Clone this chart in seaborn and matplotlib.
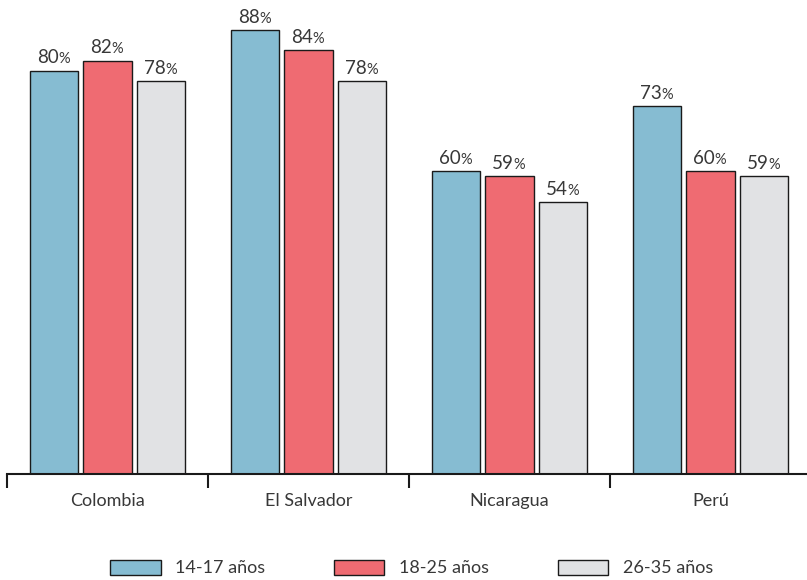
import matplotlib
matplotlib.use("Agg")
import matplotlib.pyplot as plt
import seaborn as sns
import pandas as pd
from matplotlib.patches import Patch

countries = ["Colombia", "El Salvador", "Nicaragua", "Perú"]
groups = ["14-17 años", "18-25 años", "26-35 años"]
v_14_17 = [80, 88, 60, 73]
v_18_25 = [82, 84, 59, 60]
v_26_35 = [78, 78, 54, 59]
colors = ["#86BCD2", "#EF6B72", "#E1E2E4"]

rows = []
for g, vals in zip(groups, [v_14_17, v_18_25, v_26_35]):
    for c, v in zip(countries, vals):
        rows.append({"country": c, "group": g, "value": v})
df = pd.DataFrame(rows)

sns.set_theme(style="white")
plt.rcParams["font.family"] = ["Lato", "DejaVu Sans"]
txt = "#383838"

fig = plt.figure(figsize=(8.07, 5.80), dpi=100)
ax = fig.add_axes([7 / 807, 1 - 474 / 580, 804 / 807, 474 / 580])
sns.barplot(data=df, x="country", y="value", hue="group", order=countries,
            hue_order=groups, palette=colors, saturation=1, width=0.8, gap=0.1,
            edgecolor="#1a1a1a", linewidth=1.0, ax=ax, legend=False)

for cont in ax.containers:
    for bar in cont:
        h = bar.get_height()
        t = ax.annotate(f"{h:.0f}", (bar.get_x() + bar.get_width() / 2, h),
                        xytext=(-4.5, 3), textcoords="offset points",
                        ha="center", va="bottom", fontsize=13.5, color=txt)
        ax.annotate("%", xy=(1, 0), xycoords=t, xytext=(-0.3, 0),
                    textcoords="offset points", ha="left", va="bottom",
                    fontsize=10.5, color=txt)

ax.set_xlim(-0.5, 3.5)
ax.set_ylim(0, 94)
for s in ["top", "right", "left"]:
    ax.spines[s].set_visible(False)
ax.spines["bottom"].set_color("#1a1a1a")
ax.spines["bottom"].set_linewidth(1.5)
ax.set_yticks([])
ax.set_xticks([-0.5, 0.5, 1.5, 2.5, 3.5])
ax.set_xticklabels([])
ax.set_xticks(range(len(countries)), minor=True)
ax.set_xticklabels(countries, minor=True, fontsize=13, color=txt)
ax.tick_params(axis="x", which="major", direction="out", length=10,
               width=1.5, color="#1a1a1a", bottom=True)
ax.tick_params(axis="x", which="minor", length=0, pad=14)
ax.set_xlabel("")
ax.set_ylabel("")

handles = [Patch(facecolor=c, edgecolor="#1a1a1a", linewidth=1.0) for c in colors]
fig.legend(handles, groups, loc="center",
           bbox_to_anchor=(0.5 + 8 / 807, 1 - 568 / 580),
           ncol=3, frameon=False, fontsize=13, handlelength=2.8,
           handleheight=0.9, handletextpad=0.8, columnspacing=3.8,
           labelcolor=txt)

fig.savefig("out.png", dpi=100)
